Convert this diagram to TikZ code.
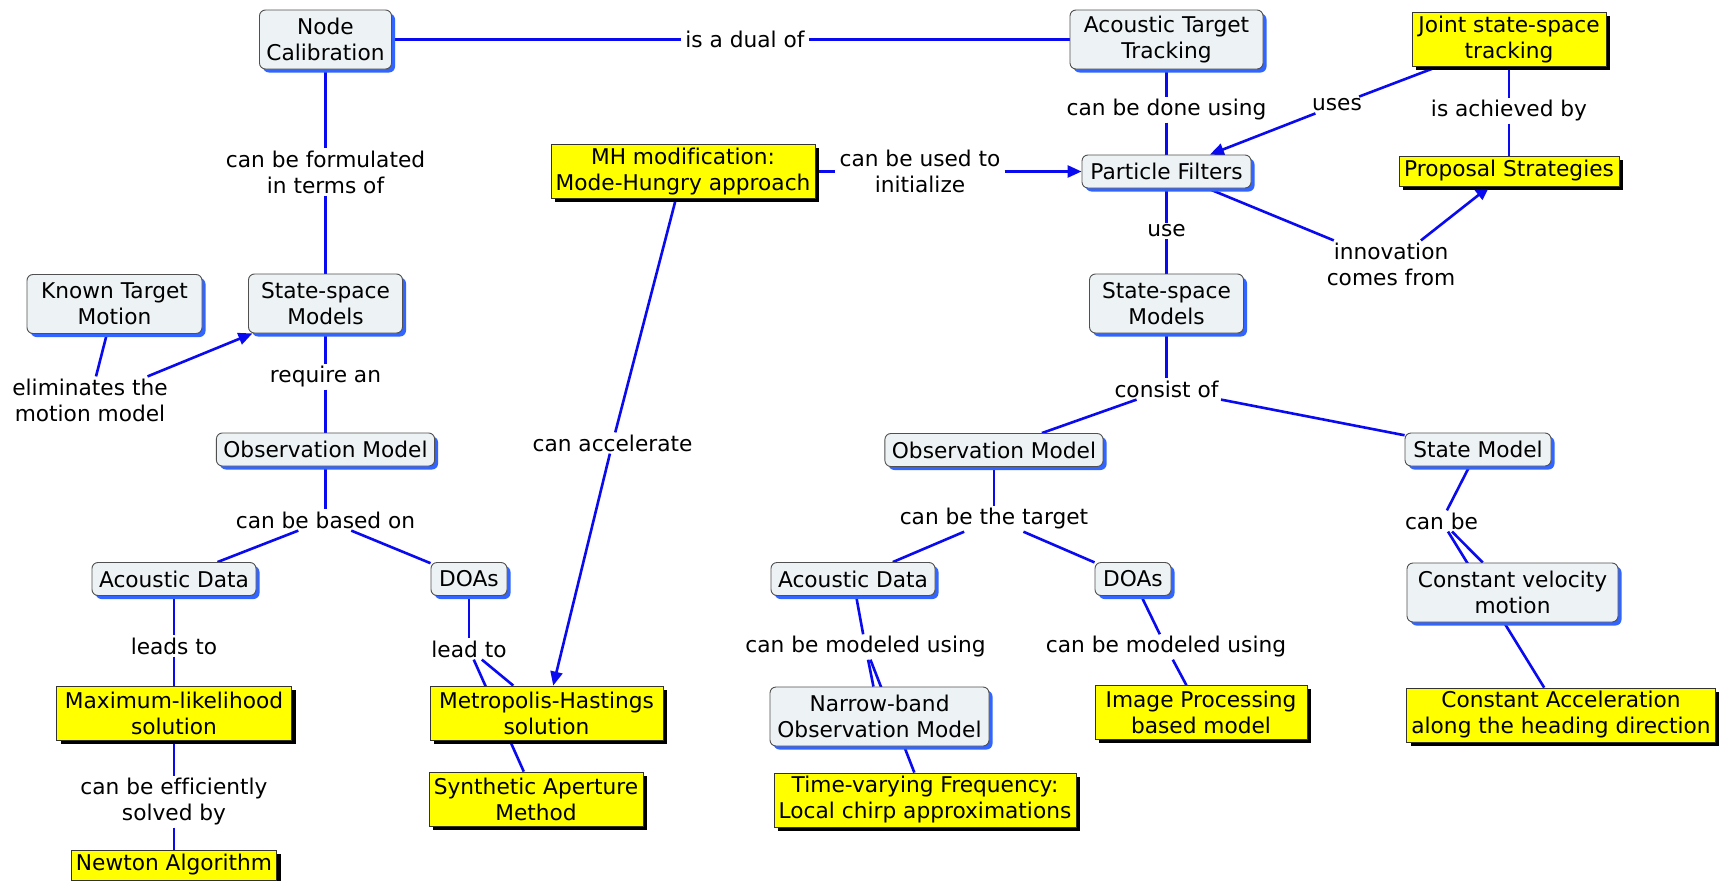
\documentclass[tikz,border=0pt]{standalone}
\usepackage{fontspec}
\setmainfont{DejaVu Sans}[Ligatures=NoCommon]
\usetikzlibrary{arrows.meta,shadows}
\definecolor{linkblue}{RGB}{10,10,240}
\definecolor{conceptfill}{RGB}{237,243,245}
\definecolor{conceptline}{RGB}{80,80,80}
\definecolor{shadeblue}{RGB}{50,100,255}
\definecolor{notefill}{RGB}{255,255,0}
\pgfdeclarelayer{links}
\pgfsetlayers{links,main}

\begin{document}
\begin{tikzpicture}[x=1pt,y=-1pt,
  font=\fontsize{21.7}{26}\selectfont,
  concept/.style={draw=conceptline, line width=0.9pt, fill=conceptfill,
    rounded corners=6pt, align=center, inner xsep=7pt, inner ysep=0pt,
    minimum height=33pt,
    drop shadow={shadow xshift=3.5pt, shadow yshift=-3.5pt, fill=shadeblue, opacity=1}},
  concepttwo/.style={concept, minimum height=59pt},
  note/.style={draw=black!80, line width=0.8pt, fill=notefill, align=center,
    inner xsep=4.5pt, inner ysep=0pt, minimum height=30pt,
    drop shadow={shadow xshift=4pt, shadow yshift=-3.5pt, fill=black, opacity=1}},
  notetwo/.style={note, minimum height=54pt},
  linkword/.style={align=center, inner xsep=4pt, inner ysep=2pt},
  link/.style={draw=linkblue, line width=2.6pt},
  linkarrow/.style={link, -{Triangle[length=14pt,width=12pt]}},
]
\useasboundingbox (0,0) rectangle (1725,881);

% concepts
\node[concepttwo, minimum width=132] (nc)  at (325.5,39.5)  {Node\\Calibration};
\node[concepttwo, minimum width=193] (att) at (1166.5,39.5) {Acoustic Target\\Tracking};
\node[notetwo, minimum width=194]    (jst) at (1509,39.5)   {Joint state-space\\tracking};
\node[notetwo, minimum width=264]    (mh)  at (683,171.5)   {MH modification:\\Mode-Hungry approach};
\node[concept, minimum width=169]    (pf)  at (1166.5,171.5) {Particle Filters};
\node[note, minimum width=220]       (ps)  at (1509,171)    {Proposal Strategies};
\node[concepttwo, minimum width=175] (ktm) at (114.5,304)   {Known Target\\Motion};
\node[concepttwo, minimum width=154] (ssl) at (325.5,303.5) {State-space\\Models};
\node[concepttwo, minimum width=154] (ssr) at (1166.5,303.5) {State-space\\Models};
\node[concept, minimum width=218]    (oml) at (325.5,449.5) {Observation Model};
\node[concept, minimum width=218]    (omr) at (994,450)     {Observation Model};
\node[concept, minimum width=146]    (sm)  at (1478,449.5)  {State Model};
\node[concept, minimum width=164]    (adl) at (174,579)     {Acoustic Data};
\node[concept, minimum width=76]     (dol) at (469,579)     {DOAs};
\node[concept, minimum width=164]    (adr) at (853,579)     {Acoustic Data};
\node[concept, minimum width=76]     (dor) at (1133,579)    {DOAs};
\node[concepttwo, minimum width=211] (cv)  at (1512.5,592.5) {Constant velocity\\motion};
\node[notetwo, minimum width=235]    (ml)  at (174,713)     {Maximum-likelihood\\solution};
\node[notetwo, minimum width=233]    (mhs) at (546.5,713)   {Metropolis-Hastings\\solution};
\node[concepttwo, minimum width=219] (nb)  at (879.5,716.5) {Narrow-band\\Observation Model};
\node[notetwo, minimum width=212]    (ip)  at (1201,712.5)  {Image Processing\\based model};
\node[notetwo, minimum width=308]    (ca)  at (1561,715)    {Constant Acceleration\\along the heading direction};
\node[notetwo, minimum width=214]    (sa)  at (536,799)     {Synthetic Aperture\\Method};
\node[notetwo, minimum width=302]    (tv)  at (925,800)     {Time-varying Frequency:\\Local chirp approximations};
\node[note, minimum width=204]       (nw)  at (174,865)     {Newton Algorithm};

% linking phrases
\node[linkword] (l1)  at (745,39.5)   {is a dual of};
\node[linkword] (l2)  at (1166.5,110) {can be done using};
\node[linkword] (l3)  at (1337,105)   {uses};
\node[linkword] (l4)  at (1509,111)   {is achieved by};
\node[linkword] (l5)  at (325.5,172)  {can be formulated\\in terms of};
\node[linkword] (l6)  at (920,171.5)  {can be used to\\initialize};
\node[linkword] (l7)  at (1166.5,231) {use};
\node[linkword] (l8)  at (1391,264)   {innovation\\comes from};
\node[linkword] (l9)  at (90,400)     {eliminates the\\motion model};
\node[linkword] (l10) at (325.5,377)  {require an};
\node[linkword] (l11) at (612.5,443)  {can accelerate};
\node[linkword] (l12) at (1166.5,389) {consist of};
\node[linkword] (l13) at (325.5,520)  {can be based on};
\node[linkword] (l14) at (994,519)    {can be the target};
\node[linkword] (l15) at (1441.5,521) {can be};
\node[linkword] (l16) at (174,646)    {leads to};
\node[linkword] (l17) at (469,649)    {lead to};
\node[linkword] (l18) at (865.5,647)  {can be modeled using};
\node[linkword] (l19) at (1166,647)   {can be modeled using};
\node[linkword] (l20) at (174,802)    {can be efficiently\\solved by};

% connectors, kept under the boxes
\begin{pgfonlayer}{links}
\fill[white] (0,0) rectangle (1725,881);
\draw[link] (nc) -- (l1);   \draw[link] (l1) -- (att);
\draw[link] (att) -- (l2);  \draw[link] (l2) -- (pf);
\draw[link] (jst) -- (l3);  \draw[linkarrow] (l3) -- (pf);
\draw[link] (jst) -- (l4);  \draw[link] (l4) -- (ps);
\draw[link] (nc) -- (l5);   \draw[link] (l5) -- (ssl);
\draw[link] (mh) -- (l6);   \draw[linkarrow] (l6) -- (pf);
\draw[link] (pf) -- (l7);   \draw[link] (l7) -- (ssr);
\draw[link] (pf) -- (l8);   \draw[linkarrow] (l8) -- (ps);
\draw[link] (ktm) -- (l9);  \draw[linkarrow] (l9) -- (ssl);
\draw[link] (ssl) -- (l10); \draw[link] (l10) -- (oml);
\draw[link] (mh) -- (l11);  \draw[linkarrow] (l11) -- (mhs);
\draw[link] (ssr) -- (l12); \draw[link] (l12) -- (omr); \draw[link] (l12) -- (sm);
\draw[link] (oml) -- (l13); \draw[link] (l13) -- (adl); \draw[link] (l13) -- (dol);
\draw[link] (omr) -- (l14); \draw[link] (l14) -- (adr); \draw[link] (l14) -- (dor);
\draw[link] (sm) -- (l15);  \draw[link] (l15) -- (cv);  \draw[link] (l15) -- (ca);
\draw[link] (adl) -- (l16); \draw[link] (l16) -- (ml);
\draw[link] (dol) -- (l17); \draw[link] (l17) -- (mhs); \draw[link] (l17) -- (sa);
\draw[link] (adr) -- (l18); \draw[link] (l18) -- (nb);  \draw[link] (l18) -- (tv);
\draw[link] (dor) -- (l19); \draw[link] (l19) -- (ip);
\draw[link] (ml) -- (l20);  \draw[link] (l20) -- (nw);
\end{pgfonlayer}
\end{tikzpicture}
\end{document}
